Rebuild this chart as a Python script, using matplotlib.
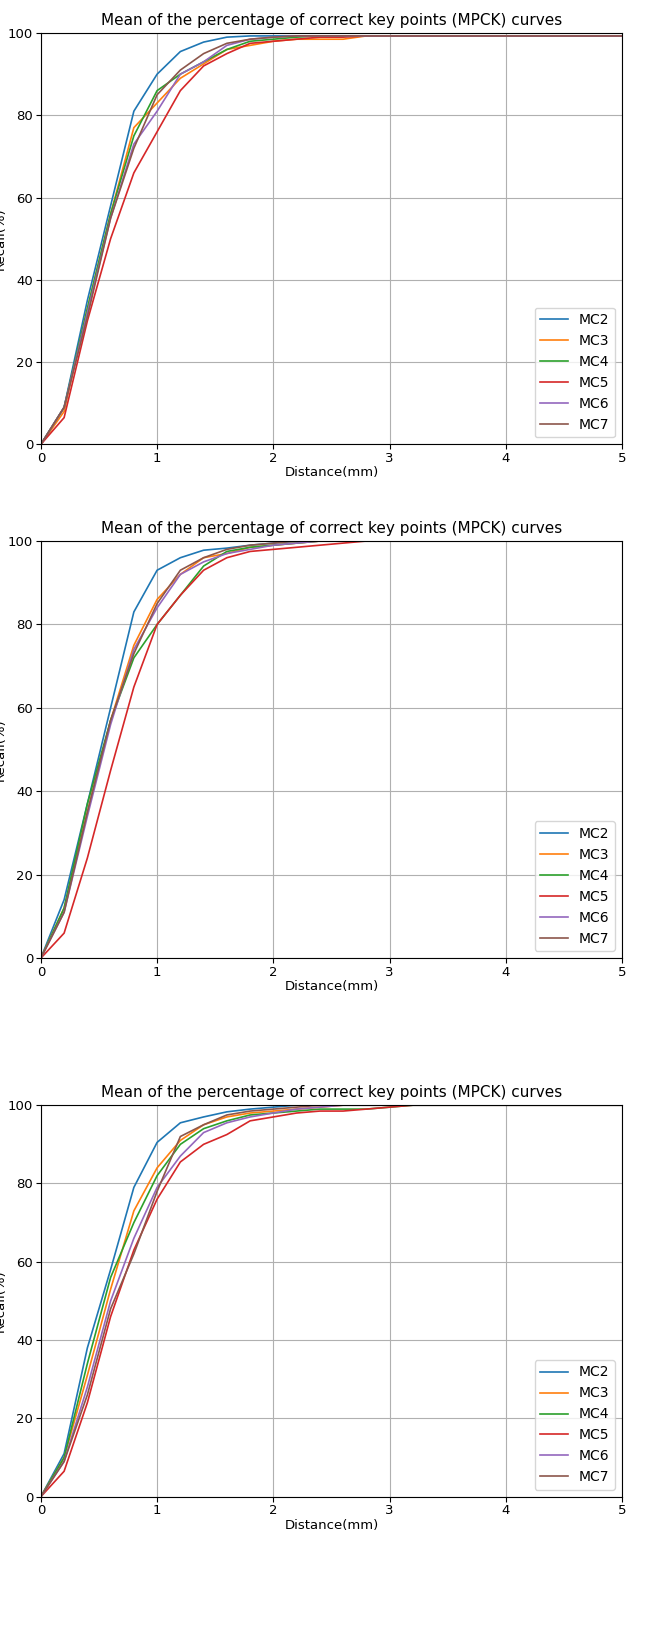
import matplotlib
matplotlib.use("Agg")
import matplotlib.pyplot as plt
import numpy as np

distance = [round(0.2 * i, 1) for i in range(26)]
labels = ["MC2", "MC3", "MC4", "MC5", "MC6", "MC7"]
title = "Mean of the percentage of correct key points (MPCK) curves"

def pad(v, fill):
    return v + [fill] * (26 - len(v))

p1 = [
    pad([0, 9, 35, 58, 81, 90, 95.5, 97.8, 99, 99.3], 99.3),
    pad([0, 8, 33, 56, 77, 83, 89, 92.5, 96, 97, 98, 98.5, 98.5, 98.5], 99.3),
    pad([0, 9, 33, 56, 75, 86, 90, 93, 96, 98, 98.5, 99], 99.3),
    pad([0, 6.5, 30, 50, 66, 76, 86, 92, 95, 97.5, 98, 98.5, 99, 99], 99.3),
    pad([0, 9, 32, 55, 73, 81, 90, 93, 97, 98.5, 99], 99.3),
    pad([0, 9, 31, 55, 72, 85, 91, 95, 97.5, 98.5, 99], 99.3),
]
p2 = [
    pad([0, 14, 37, 60, 83, 93, 96, 97.8, 98.3, 99, 99.5], 100),
    pad([0, 12, 35, 57, 75, 86, 92, 96, 97, 98.5, 99, 99.5], 100),
    pad([0, 12, 37, 57, 72, 80, 87, 94, 97.5, 98.5, 99, 99.5], 100),
    pad([0, 6, 24, 45, 65, 80, 87, 93, 96, 97.5, 98, 98.5, 99, 99.5], 100),
    pad([0, 11, 34, 56, 74, 84, 92, 95, 97, 98, 99, 99.5], 100),
    pad([0, 11, 35, 57, 73, 85, 93, 96, 98, 99, 99.5], 100),
]
p3 = [
    pad([0, 11, 38, 58, 79, 90.5, 95.5, 97, 98.3, 99, 99.5], 100),
    pad([0, 10, 31, 53, 73, 84, 91, 95, 97, 98, 98.5, 99, 99.5], 100),
    pad([0, 10, 34, 56, 70, 82, 90, 94, 96, 97.5, 98, 98.5, 99, 99, 99, 99.5], 100),
    pad([0, 6.5, 24, 46, 63, 76, 85.5, 90, 92.5, 96, 97, 98, 98.5, 98.5, 99, 99.5], 100),
    pad([0, 9, 28, 50, 66, 79, 87, 93, 95.5, 97, 98, 99, 99.5], 100),
    pad([0, 9, 26, 48, 62, 78, 92, 95, 97.5, 98.5, 99, 99.5], 100),
]

fig = plt.figure(figsize=(6.59, 16.52), dpi=100)
rects = [(0.062, 0.731, 0.882, 0.249), (0.062, 0.420, 0.882, 0.2525), (0.062, 0.094, 0.882, 0.237)]
for rect, panel in zip(rects, [p1, p2, p3]):
    ax = fig.add_axes(rect)
    for lab, vals in zip(labels, panel):
        ax.plot(distance, vals, label=lab, lw=1.2)
    ax.set_xlim(0, 5)
    ax.set_ylim(0, 100)
    ax.grid(True)
    ax.tick_params(labelsize=9.5, pad=2)
    ax.set_title(title, fontsize=11)
    ax.set_xlabel("Distance(mm)", fontsize=9.5, labelpad=1)
    ax.set_ylabel("Recall(%)", fontsize=9.5, labelpad=1)
    ax.legend(loc="lower right", fontsize=10)
fig.savefig("out.png", dpi=100)
